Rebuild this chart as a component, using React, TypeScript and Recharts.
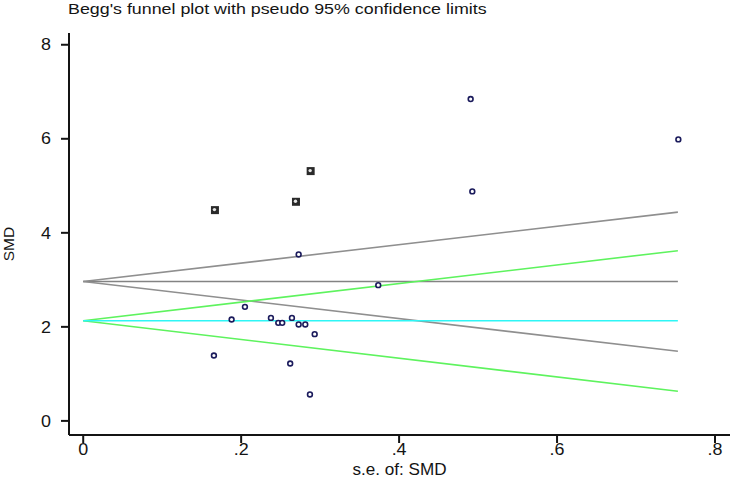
import React from "react";
import {
  ComposedChart,
  Scatter,
  XAxis,
  YAxis,
} from "recharts";

// funnel line end points (se = 0 and the largest se)
const seEnds = [0, 0.753];
const grayUpper = [2.965, 4.44];
const grayMid = [2.965, 2.965];
const grayLower = [2.965, 1.48];
const greenUpper = [2.13, 3.62];
const cyanMid = [2.13, 2.13];
const greenLower = [2.13, 0.63];

// study points
const studySe = [
  0.2728, 0.2048, 0.1879, 0.2377, 0.247, 0.252, 0.2643, 0.2728, 0.2812, 0.2931,
  0.1655, 0.2621, 0.2871, 0.3736, 0.4906, 0.4927, 0.7536,
];
const studySmd = [
  3.54, 2.426, 2.157, 2.191, 2.085, 2.085, 2.191, 2.051, 2.051, 1.845,
  1.391, 1.221, 0.562, 2.887, 6.845, 4.881, 5.987,
];

// boxed points
const boxSe = [0.1668, 0.2694, 0.288];
const boxSmd = [4.483, 4.66, 5.313];

const xTicks = [0, 0.2, 0.4, 0.6, 0.8];
const yTicks = [0, 2, 4, 6, 8];

const toLine = (ys: number[]) => seEnds.map((se, i) => ({ se, v: ys[i] }));
const studies = studySe.map((se, i) => ({ se, v: studySmd[i] }));
const boxes = boxSe.map((se, i) => ({ se, v: boxSmd[i] }));

const font = '"Liberation Sans", Arial, sans-serif';
const ink = "#141414";
// the reference text is a little wide, as if stretched sideways
const stretch = 1.12;

const NoDot = () => <g />;

const Ring = (p: any) => (
  <circle cx={p.cx} cy={p.cy} r={2.4} fill="#fff" stroke="#1b1b5c" strokeWidth={1.6} />
);

const Box = (p: any) => (
  <g>
    <rect x={p.cx - 4} y={p.cy - 4} width={8} height={8} fill="#2a2a2a" />
    <circle cx={p.cx - 0.5} cy={p.cy - 0.5} r={1.7} fill="#e6e6e6" />
  </g>
);

const fmtX = (v: number) => (v === 0 ? "0" : String(v).replace(/^0/, ""));

const XTick = (p: any) => (
  <g transform={`translate(${p.x},${p.y}) scale(${stretch},1)`}>
    <text dy="0.71em" textAnchor="middle" fill={ink} fontSize={16} fontFamily={font}>
      {fmtX(p.payload.value)}
    </text>
  </g>
);

const YTick = (p: any) => (
  <g transform={`translate(${p.x},${p.y}) scale(${stretch},1)`}>
    <text dy="0.355em" textAnchor="end" fill={ink} fontSize={16} fontFamily={font}>
      {p.payload.value}
    </text>
  </g>
);

const XTitle = (p: any) => {
  const vb = p.viewBox;
  return (
    <g transform={`translate(${vb.x + vb.width / 2},${vb.y + vb.height - 3}) scale(1.07,1)`}>
      <text textAnchor="middle" fill={ink} fontSize={16} fontFamily={font}>
        s.e. of: SMD
      </text>
    </g>
  );
};

const YTitle = (p: any) => {
  const vb = p.viewBox;
  return (
    <text
      transform={`translate(14,${vb.y + vb.height / 2 + 10}) rotate(-90)`}
      textAnchor="middle"
      fill={ink}
      fontSize={15.5}
      fontFamily={font}
    >
      SMD
    </text>
  );
};

const lines: { ys: number[]; color: string }[] = [
  { ys: grayUpper, color: "#8f8f8f" },
  { ys: grayMid, color: "#838383" },
  { ys: grayLower, color: "#8f8f8f" },
  { ys: greenUpper, color: "#5ef35e" },
  { ys: greenLower, color: "#5ef35e" },
  { ys: cyanMid, color: "#2ef6f6" },
];

export default function App() {
  return (
    <div
      style={{
        position: "absolute",
        left: 0,
        top: 0,
        width: 733,
        height: 478,
        background: "#fff",
        fontFamily: font,
      }}
    >
      <div
        style={{
          position: "absolute",
          left: 68,
          top: 0,
          fontSize: 15.5,
          color: ink,
          whiteSpace: "nowrap",
          transform: "scaleX(1.15)",
          transformOrigin: "left top",
        }}
      >
        Begg's funnel plot with pseudo 95% confidence limits
      </div>
      <ComposedChart
        width={733}
        height={478}
        margin={{ top: 33, right: 3, bottom: 0, left: 0 }}
      >
        <XAxis
          type="number"
          dataKey="se"
          domain={[-0.018, 0.819]}
          ticks={xTicks}
          allowDataOverflow
          height={43}
          tickSize={8}
          tickMargin={1}
          axisLine={{ stroke: ink, strokeWidth: 2 }}
          tickLine={{ stroke: ink, strokeWidth: 2 }}
          tick={XTick}
          label={{ content: XTitle }}
        />
        <YAxis
          type="number"
          dataKey="v"
          domain={[-0.3, 8.25]}
          ticks={yTicks}
          allowDataOverflow
          width={69}
          tickSize={8}
          tickMargin={10}
          axisLine={{ stroke: ink, strokeWidth: 2 }}
          tickLine={{ stroke: ink, strokeWidth: 2 }}
          tick={YTick}
          label={{ content: YTitle }}
        />
        {lines.map((l, i) => (
          <Scatter
            key={i}
            data={toLine(l.ys)}
            line={{ stroke: l.color, strokeWidth: 1.6 }}
            shape={NoDot}
            isAnimationActive={false}
          />
        ))}
        <Scatter data={studies} shape={Ring} isAnimationActive={false} />
        <Scatter data={boxes} shape={Box} isAnimationActive={false} />
      </ComposedChart>
    </div>
  );
}
